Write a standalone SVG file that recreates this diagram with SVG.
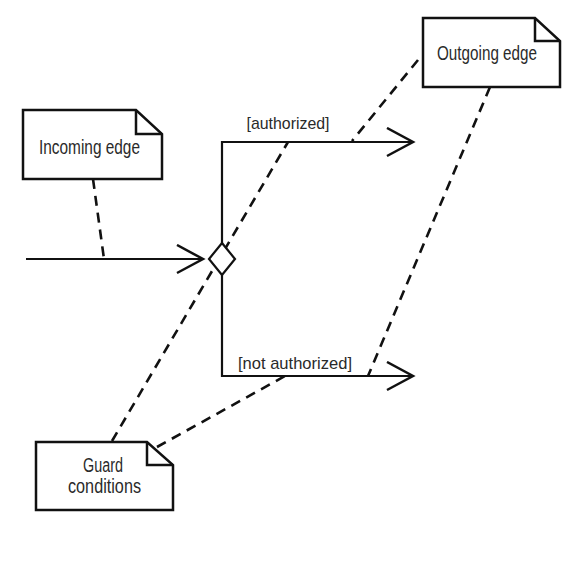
<svg xmlns="http://www.w3.org/2000/svg" width="570" height="580" viewBox="0 0 570 580">
<style>
.note{fill:#fff;stroke:#111;stroke-width:2.5;stroke-linejoin:miter}
.fold{fill:none;stroke:#111;stroke-width:2.5}
.edge{fill:none;stroke:#111;stroke-width:2.2}
.anchor{fill:none;stroke:#111;stroke-width:2.6;stroke-dasharray:10 7}
.t{font-family:"Liberation Sans",Arial,sans-serif;fill:#2a2a2a;text-anchor:middle}
.nt{font-size:20px}
.lt{font-size:17px}
</style>
<defs>
<marker id="open" markerUnits="userSpaceOnUse" markerWidth="32" markerHeight="32" refX="27" refY="15" orient="auto" viewBox="0 0 32 32">
<path d="M1,1 L27,15 L1,29" fill="none" stroke="#111" stroke-width="2.5"/>
</marker>
</defs>
<rect width="570" height="580" fill="#fff"/>
<g id="connectors">
<path class="edge" d="M26,259 H203" marker-end="url(#open)"/>
<path class="edge" d="M222,243 V142 H413" marker-end="url(#open)"/>
<path class="edge" d="M222,275 V376 H413" marker-end="url(#open)"/>
<line class="anchor" x1="93" y1="179" x2="104" y2="259"/>
<line class="anchor" x1="418" y1="60" x2="352" y2="141"/>
<line class="anchor" x1="490" y1="87" x2="368" y2="376"/>
<line class="anchor" x1="112" y1="441" x2="288" y2="142"/>
<line class="anchor" x1="157" y1="447" x2="285" y2="376"/>
<text class="t lt" x="288" y="129" textLength="83" lengthAdjust="spacingAndGlyphs">[authorized]</text>
<text class="t lt" x="295" y="369" textLength="114" lengthAdjust="spacingAndGlyphs">[not authorized]</text>
</g>
<g id="decision">
<polygon points="222,243 235,259 222,275 209,259" fill="#fff" stroke="#111" stroke-width="2.2"/>
</g>
<g id="note-incoming">
<path class="note" d="M23,110 H136 L162,134 V179 H23 Z"/>
<path class="fold" d="M136,110 V134 H162"/>
<text class="t nt" x="89.5" y="154" textLength="101" lengthAdjust="spacingAndGlyphs">Incoming edge</text>
</g>
<g id="note-outgoing">
<path class="note" d="M423,18 H535 L560,41 V87 H423 Z"/>
<path class="fold" d="M535,18 V41 H560"/>
<text class="t nt" x="487" y="60" textLength="100" lengthAdjust="spacingAndGlyphs">Outgoing edge</text>
</g>
<g id="note-guard">
<path class="note" d="M36,442 H147 L173,465 V510 H36 Z"/>
<path class="fold" d="M147,442 V465 H173"/>
<text class="t nt" x="103" y="472" textLength="40" lengthAdjust="spacingAndGlyphs">Guard</text>
<text class="t nt" x="104.5" y="493" textLength="73" lengthAdjust="spacingAndGlyphs">conditions</text>
</g>
</svg>
